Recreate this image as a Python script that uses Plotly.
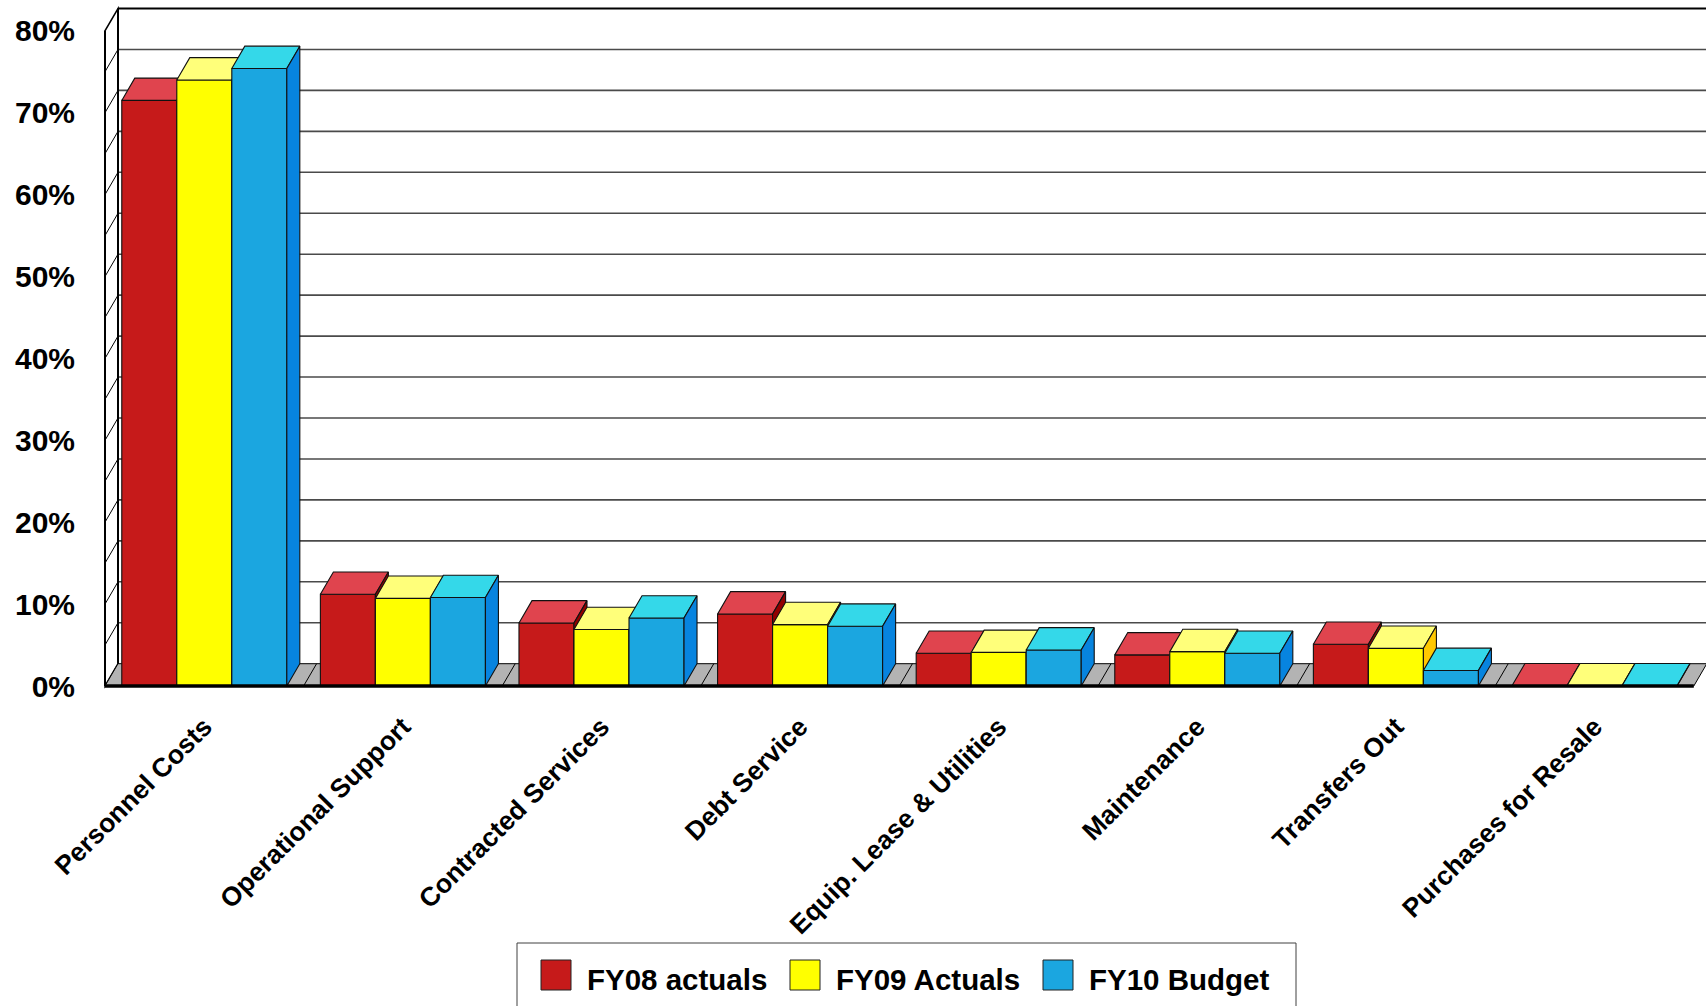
import plotly.graph_objects as go

# ---- data -------------------------------------------------------------
categories = [
    "Personnel Costs",
    "Operational Support",
    "Contracted Services",
    "Debt Service",
    "Equip. Lease & Utilities",
    "Maintenance",
    "Transfers Out",
    "Purchases for Resale",
]
fy08_actuals = [71.5, 11.2, 7.7, 8.8, 4.0, 3.8, 5.1, 0.02]
fy09_actuals = [74.0, 10.7, 6.9, 7.5, 4.1, 4.2, 4.6, 0.02]
fy10_budget = [75.4, 10.8, 8.3, 7.3, 4.4, 4.0, 1.9, 0.02]
series_names = ["FY08 actuals", "FY09 Actuals", "FY10 Budget"]
y_tick_values = [0, 10, 20, 30, 40, 50, 60, 70, 80]

series_values = [fy08_actuals, fy09_actuals, fy10_budget]

# face colours per series: front, top, side
face_colors = [
    ("#C61A1A", "#E0444E", "#920000"),
    ("#FFFF00", "#FFFF7A", "#FFC800"),
    ("#1BA6E0", "#34D8E9", "#0784DF"),
]

# ---- geometry of the pseudo-3D frame ----------------------------------
FIG_W, FIG_H = 1706, 1006
M_L, M_R, M_T, M_B = 100, 0, 2, 312
PX_PER_SLOT = 198.6          # horizontal pixels per category slot
PX_PER_PCT = 8.19            # vertical pixels per percentage point
ORIGIN_PX = (105, 686)       # front-left corner of the floor
DEPTH_PX = (13, 22.3)        # oblique depth offset (right, up)

DX = DEPTH_PX[0] / PX_PER_SLOT
DY = DEPTH_PX[1] / PX_PER_PCT
Y_MAX = max(y_tick_values)
N = len(categories)
BAR_W = 0.277
GROUP_W = BAR_W * len(series_values)

x_range = [(M_L - ORIGIN_PX[0]) / PX_PER_SLOT,
           (FIG_W - M_R - ORIGIN_PX[0]) / PX_PER_SLOT]
y_range = [(ORIGIN_PX[1] - (FIG_H - M_B)) / PX_PER_PCT,
           (ORIGIN_PX[1] - M_T) / PX_PER_PCT]

PLOT_W = FIG_W - M_L - M_R
PLOT_H = FIG_H - M_T - M_B


def px_x(px):
    return (px - M_L) / PLOT_W


def px_y(py):
    return (FIG_H - M_B - py) / PLOT_H


FONT = "Liberation Sans, Arial, Helvetica, sans-serif"

fig = go.Figure()

# ---- bars: front, top and side faces drawn back-to-front ----------------
for i, cat in enumerate(categories):
    left0 = i + (1 - GROUP_W) / 2
    for s, vals in enumerate(series_values):
        v = vals[i]
        xl = left0 + s * BAR_W
        xr = xl + BAR_W
        front_c, top_c, side_c = face_colors[s]
        faces = [
            ([xl, xr, xr, xl, xl], [0, 0, v, v, 0], front_c),
            ([xl, xr, xr + DX, xl + DX, xl], [v, v, v + DY, v + DY, v], top_c),
            ([xr, xr + DX, xr + DX, xr, xr], [0, DY, v + DY, v, 0], side_c),
        ]
        for k, (fx, fy, col) in enumerate(faces):
            fig.add_trace(go.Scatter(
                x=fx, y=fy, mode="lines", fill="toself",
                fillcolor=col,
                line=dict(color="#111111", width=1.1),
                showlegend=False,
                name=series_names[s],
                hoverinfo="skip" if k else "text",
                hoveron="fills",
                text=f"{cat}<br>{series_names[s]}: {v:.1f}%",
            ))

# ---- walls, floor and grid --------------------------------------------
shapes = []
x_end = N + DX

# left side wall
shapes.append(dict(type="path", xref="x", yref="y", layer="below",
                   path=f"M0,0 L{DX},{DY} L{DX},{Y_MAX + DY} L0,{Y_MAX} Z",
                   fillcolor="white", line=dict(color="black", width=1.5)))
for v in range(5, Y_MAX, 5):
    shapes.append(dict(type="line", xref="x", yref="y", layer="below",
                       x0=0, y0=v, x1=DX, y1=v + DY,
                       line=dict(color="black", width=1)))
    shapes.append(dict(type="line", xref="x", yref="y", layer="below",
                       x0=DX, y0=v + DY, x1=x_end, y1=v + DY,
                       line=dict(color="#4a4a4a", width=1.6)))
# top edge of the back wall
shapes.append(dict(type="line", xref="x", yref="y", layer="below",
                   x0=DX, y0=Y_MAX + DY, x1=x_end, y1=Y_MAX + DY,
                   line=dict(color="black", width=2.2)))
# floor
shapes.append(dict(type="path", xref="x", yref="y", layer="below",
                   path=f"M0,0 L{N},0 L{N + DX},{DY} L{DX},{DY} Z",
                   fillcolor="#B3B3B3", line=dict(color="black", width=1)))
for k in range(1, N):
    shapes.append(dict(type="line", xref="x", yref="y", layer="below",
                       x0=k, y0=0, x1=k + DX, y1=DY,
                       line=dict(color="black", width=1)))
# wall edges and the front baseline
shapes.append(dict(type="line", xref="x", yref="y", layer="below",
                   x0=0, y0=0, x1=0, y1=Y_MAX,
                   line=dict(color="black", width=2)))
shapes.append(dict(type="line", xref="x", yref="y", layer="below",
                   x0=DX, y0=DY, x1=DX, y1=Y_MAX + DY,
                   line=dict(color="black", width=2)))
shapes.append(dict(type="line", xref="x", yref="y", layer="above",
                   x0=0, y0=0, x1=N, y1=0,
                   line=dict(color="black", width=3.5)))

# ---- legend box ---------------------------------------------------------
annotations = []
shapes.append(dict(type="rect", xref="paper", yref="paper", layer="above",
                   x0=px_x(517), x1=px_x(1296), y0=px_y(1012), y1=px_y(943),
                   fillcolor="white", line=dict(color="#404040", width=1)))
swatch_left = [541, 790, 1043]
for s, name in enumerate(series_names):
    x0 = swatch_left[s]
    shapes.append(dict(type="rect", xref="paper", yref="paper", layer="above",
                       x0=px_x(x0), x1=px_x(x0 + 30),
                       y0=px_y(990), y1=px_y(960),
                       fillcolor=face_colors[s][0],
                       line=dict(color="#222222", width=1)))
    annotations.append(dict(xref="paper", yref="paper",
                            x=px_x(x0 + 44), y=px_y(979),
                            xanchor="left", yanchor="middle",
                            text=name, showarrow=False,
                            font=dict(family=FONT, size=29.5, color="black",
                                      weight="bold")))

fig.update_layout(
    width=FIG_W, height=FIG_H,
    autosize=False,
    margin=dict(l=M_L, r=M_R, t=M_T, b=M_B, pad=0),
    paper_bgcolor="white",
    plot_bgcolor="white",
    showlegend=False,
    shapes=shapes,
    annotations=annotations,
    hovermode="closest",
    xaxis=dict(
        range=x_range, showgrid=False, zeroline=False, showline=False,
        tickmode="array",
        tickvals=[i + 0.5 for i in range(N)],
        ticktext=categories,
        tickangle=-45, ticks="",
        ticklabelstandoff=11,
        tickfont=dict(family=FONT, size=26.5, color="black", weight="bold"),
        fixedrange=True,
    ),
    yaxis=dict(
        range=y_range, showgrid=False, zeroline=False, showline=False,
        tickmode="array",
        tickvals=y_tick_values,
        ticktext=[f"{v}%" for v in y_tick_values],
        ticks="",
        ticklabelstandoff=24,
        tickfont=dict(family=FONT, size=30, color="black", weight="bold"),
        fixedrange=True,
    ),
)

fig.write_html("out.html")
